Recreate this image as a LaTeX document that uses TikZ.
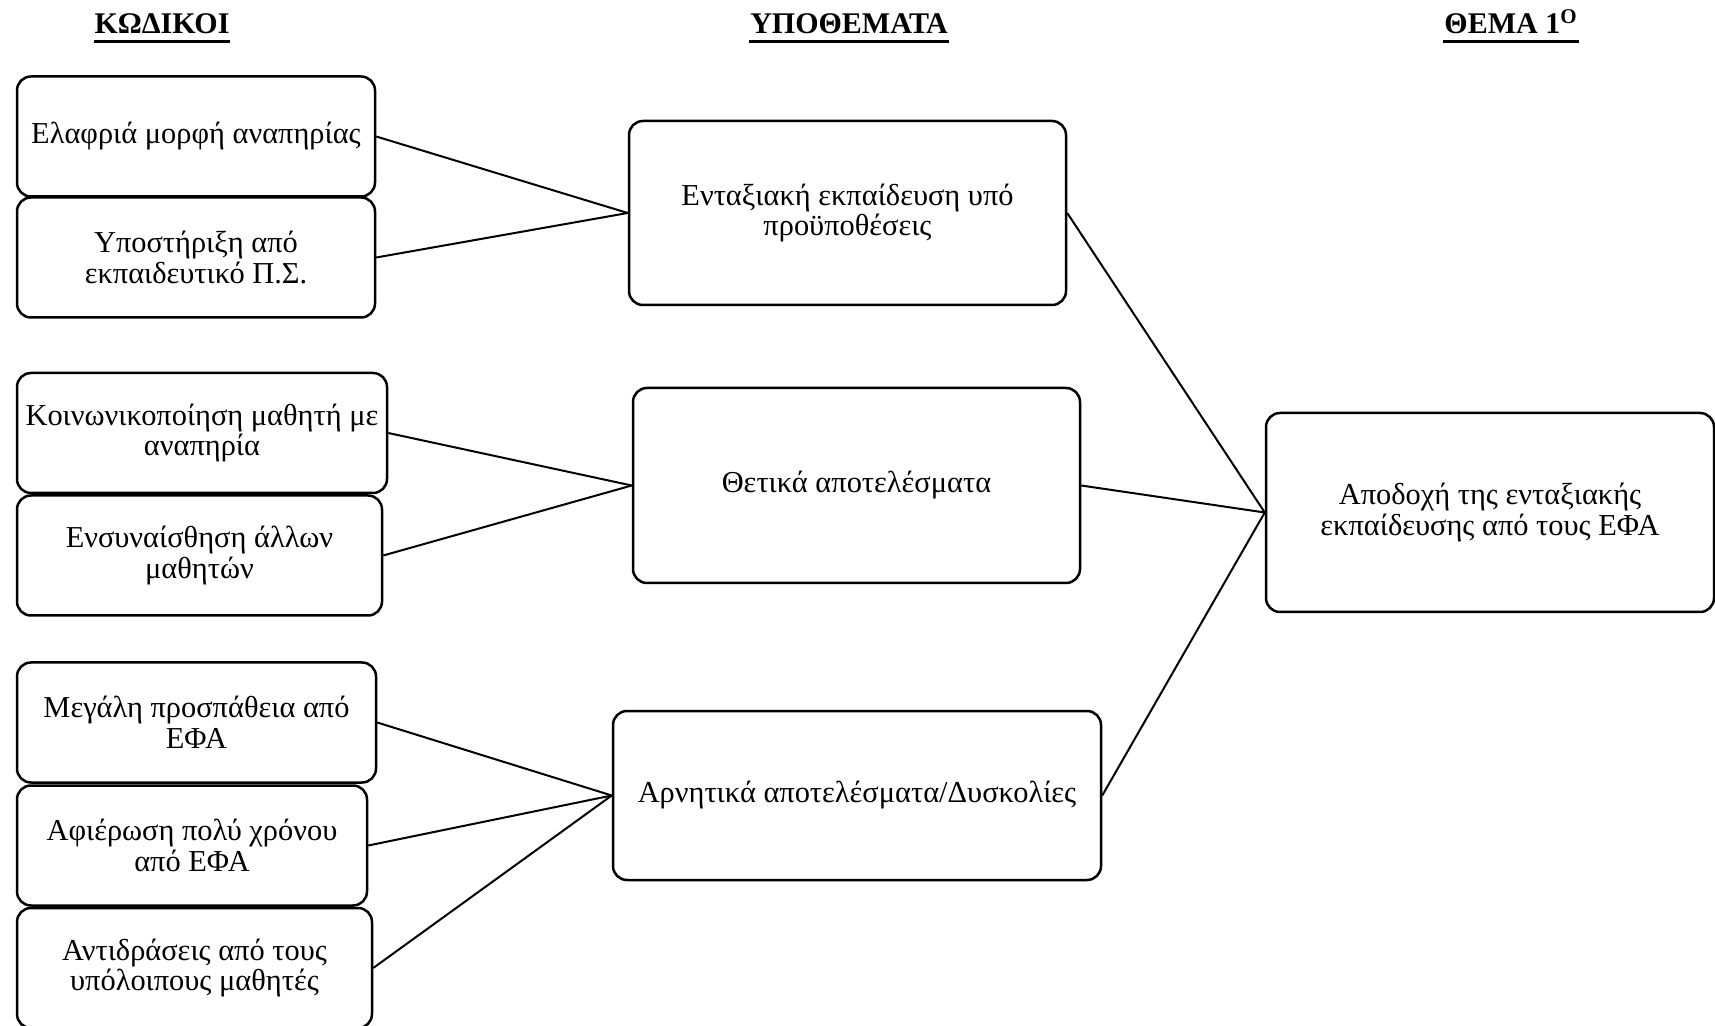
\documentclass[tikz,border=0pt]{standalone}
\usepackage{fontspec}
\setmainfont{Liberation Serif}
\begin{document}
\begin{tikzpicture}[x=0.5pt,y=-0.5pt,line width=1pt]
	
	% Page has the size of the original figure (1 unit = 1 pixel).
	\useasboundingbox (0,0) rectangle (1715,1026);
	
	% Column titles
	\begin{scope}[every node/.style={inner sep=0pt,anchor=base,font=\fontsize{15}{15}\selectfont\bfseries}]
		\node (hkod)   at (162,34)  {ΚΩΔΙΚΟΙ};
		\node (hypo)   at (849,34)  {ΥΠΟΘΕΜΑΤΑ};
		\node (hthema) at (1511,34) {ΘΕΜΑ 1\textsuperscript{Ο}};
	\end{scope}
	\foreach \h in {hkod,hypo,hthema}
		\draw [line width=1.4pt] ([yshift=-3pt]\h.south west) -- ([yshift=-3pt]\h.south east);
	
	\begin{scope}[every node/.style={draw,rectangle,rounded corners=7pt,line width=1.25pt,align=center,inner sep=2pt,font=\fontsize{15.2}{15.3}\selectfont}]
		\tikzstyle{code}=[minimum height=60pt]
		
		% Codes
		\node [code,minimum width=179pt] (kod1) at (196,136.5)   {Ελαφριά μορφή αναπηρίας};
		\node [code,minimum width=179pt] (kod2) at (196,257.5)   {Υποστήριξη από\\εκπαιδευτικό Π.Σ.};
		\node [code,minimum width=185pt] (kod3) at (202,433)     {Κοινωνικοποίηση μαθητή με\\αναπηρία};
		\node [code,minimum width=182.5pt] (kod4) at (199.5,555.5) {Ενσυναίσθηση άλλων\\μαθητών};
		\node [code,minimum width=179.5pt] (kod5) at (196.5,722.5) {Μεγάλη προσπάθεια από\\ΕΦΑ};
		\node [code,minimum width=175pt] (kod6) at (192,845.5)   {Αφιέρωση πολύ χρόνου\\από ΕΦΑ};
		\node [code,minimum width=177.5pt] (kod7) at (194.5,968)   {Αντιδράσεις από τους\\υπόλοιπους μαθητές};
		
		% Subthemes
		\node [minimum width=218.5pt,minimum height=92pt] (ypo1) at (847.5,213)  {Ενταξιακή εκπαίδευση υπό\\προϋποθέσεις};
		\node [minimum width=223.5pt,minimum height=97.5pt] (ypo2) at (856.5,485.5) {Θετικά αποτελέσματα};
		\node [minimum width=244pt,minimum height=84.5pt] (ypo3) at (857,795.5) {Αρνητικά αποτελέσματα/Δυσκολίες};
		
		% Theme
		\node [minimum width=224pt,minimum height=99.5pt] (thema) at (1490,512.5) {Αποδοχή της ενταξιακής\\εκπαίδευσης από τους ΕΦΑ};
	\end{scope}
	
	\draw (kod1.east) -- (ypo1.west);
	\draw (kod2.east) -- (ypo1.west);
	\draw (kod3.east) -- (ypo2.west);
	\draw (kod4.east) -- (ypo2.west);
	\draw (kod5.east) -- (ypo3.west);
	\draw (kod6.east) -- (ypo3.west);
	\draw (kod7.east) -- (ypo3.west);
	
	\foreach \y in {ypo1,ypo2,ypo3}
		\draw (\y.east) -- (thema.west);
	
\end{tikzpicture}
\end{document}
